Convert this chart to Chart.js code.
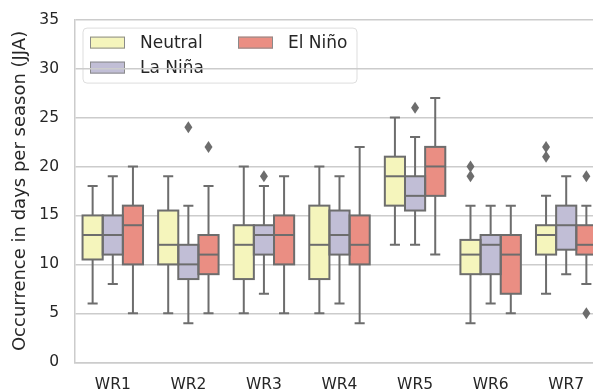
<!DOCTYPE html>
<html>
<head>
<meta charset="utf-8">
<script src="https://cdn.jsdelivr.net/npm/chart.js@4/dist/chart.umd.min.js"></script>
<style>
  html, body { margin: 0; padding: 0; background: #fff; overflow: hidden; width: 593px; height: 390px; }
  #wrap { position: absolute; left: 0; top: 0; width: 604px; height: 390px; }
</style>
</head>
<body>
<div id="wrap"><canvas id="c" width="604" height="390"></canvas></div>
<script>
// Weather regimes on the category axis
const categories = ['WR1', 'WR2', 'WR3', 'WR4', 'WR5', 'WR6', 'WR7'];
const seriesNames = ['Neutral', 'La Niña', 'El Niño'];
const yTickValues = [0, 5, 10, 15, 20, 25, 30, 35];

// Five-number summaries per regime: [lower whisker, Q1, median, Q3, upper whisker]
const neutral = [[6, 10.5, 13, 15, 18], [5, 10, 12, 15.5, 19], [5, 8.5, 12, 14, 20], [5, 8.5, 12, 16, 20], [12, 16, 19, 21, 25], [4, 9, 11, 12.5, 16], [7, 11, 13, 14, 17]];
const laNina = [[8, 11, 13, 15, 19], [4, 8.5, 10, 12, 16], [7, 11, 13, 14, 18], [6, 11, 13, 15.5, 19], [12, 15.5, 17, 19, 23], [6, 9, 12, 13, 16], [9, 11.5, 14, 16, 19]];
const elNino = [[5, 10, 14, 16, 20], [5, 9, 11, 13, 18], [5, 10, 13, 15, 19], [4, 10, 12, 15, 22], [11, 17, 20, 22, 27], [5, 7, 11, 13, 16], [8, 11, 12, 14, 16]];

// Points beyond the whiskers
const neutralOutliers = [[], [], [], [], [], [20, 19], [22, 21]];
const laNinaOutliers = [[], [24], [19], [], [26], [], []];
const elNinoOutliers = [[], [22], [], [], [], [], [19, 5]];

const fills = ['#f5f5bc', '#c1bed6', '#ea8e83'];
const lineGray = '#6d6d6d';
const textColor = '#262626';
const gridColor = '#cccccc';
const FONT = '"DejaVu Sans", sans-serif';

const stats = [neutral, laNina, elNino];
const outliers = [neutralOutliers, laNinaOutliers, elNinoOutliers];

const datasets = seriesNames.map((name, k) => ({
  label: name,
  data: stats[k].map(s => [s[1], s[3]]),
  backgroundColor: fills[k],
  borderWidth: 0,
  categoryPercentage: 0.8,
  barPercentage: 1.0
}));

// Whiskers, caps, box outlines, medians and outlier diamonds
const boxDetails = {
  id: 'boxDetails',
  afterDatasetsDraw(chart) {
    const ctx = chart.ctx;
    const y = chart.scales.y;
    ctx.save();
    ctx.strokeStyle = lineGray;
    ctx.fillStyle = lineGray;
    ctx.lineWidth = 2;
    ctx.lineCap = 'butt';
    stats.forEach((series, k) => {
      const meta = chart.getDatasetMeta(k);
      meta.data.forEach((bar, i) => {
        const [lo, q1, med, q3, hi] = series[i];
        const x = bar.x, w = bar.width;
        const left = x - w / 2, right = x + w / 2;
        const yLo = y.getPixelForValue(lo), yQ1 = y.getPixelForValue(q1);
        const yMed = y.getPixelForValue(med), yQ3 = y.getPixelForValue(q3);
        const yHi = y.getPixelForValue(hi);
        ctx.beginPath();
        ctx.moveTo(x, yQ3); ctx.lineTo(x, yHi);
        ctx.moveTo(x, yQ1); ctx.lineTo(x, yLo);
        ctx.moveTo(x - w / 4, yHi); ctx.lineTo(x + w / 4, yHi);
        ctx.moveTo(x - w / 4, yLo); ctx.lineTo(x + w / 4, yLo);
        ctx.stroke();
        ctx.strokeRect(left, yQ3, w, yQ1 - yQ3);
        ctx.beginPath();
        ctx.moveTo(left, yMed); ctx.lineTo(right, yMed);
        ctx.stroke();
        outliers[k][i].forEach(v => {
          const py = y.getPixelForValue(v);
          ctx.beginPath();
          ctx.moveTo(x, py - 6);
          ctx.lineTo(x + 4, py);
          ctx.lineTo(x, py + 6);
          ctx.lineTo(x - 4, py);
          ctx.closePath();
          ctx.fill();
        });
      });
    });
    ctx.restore();
  }
};

// Legend box in the upper left, laid under the grid lines
const legendBox = {
  id: 'legendBox',
  beforeDraw(chart) {
    const ctx = chart.ctx;
    const a = chart.chartArea;
    const bx = a.left + 8, by = a.top + 8.5, bw = 274, bh = 55;
    ctx.save();
    ctx.beginPath();
    ctx.roundRect(bx, by, bw, bh, 4);
    ctx.fillStyle = 'rgba(255,255,255,0.8)';
    ctx.fill();
    ctx.strokeStyle = '#dddddd';
    ctx.lineWidth = 1;
    ctx.stroke();
    const slots = [
      { px: bx + 7, py: by + 8.5 },
      { px: bx + 7, py: by + 33.5 },
      { px: bx + 155, py: by + 8.5 }
    ];
    ctx.font = '17px ' + FONT;
    ctx.textBaseline = 'middle';
    seriesNames.forEach((name, k) => {
      const s = slots[k];
      ctx.fillStyle = fills[k];
      ctx.fillRect(s.px, s.py, 35, 12);
      ctx.strokeStyle = '#8a8a8a';
      ctx.lineWidth = 1;
      ctx.strokeRect(s.px + 0.5, s.py + 0.5, 34, 11);
      ctx.fillStyle = textColor;
      ctx.fillText(name, s.px + 50, s.py + 6.5);
    });
    ctx.restore();
  }
};

new Chart(document.getElementById('c'), {
  type: 'bar',
  data: { labels: categories, datasets },
  options: {
    responsive: false,
    animation: false,
    devicePixelRatio: 1,
    layout: { padding: { top: 19.6, left: 0, right: 0, bottom: 0 } },
    plugins: { legend: { display: false }, tooltip: { enabled: false } },
    scales: {
      x: {
        grid: { display: false, drawTicks: false },
        border: { display: true, color: gridColor, width: 1.5 },
        ticks: { color: textColor, font: { family: FONT, size: 15.5 }, padding: 13 },
        afterFit(scale) { scale.height = 27.7; }
      },
      y: {
        min: 0, max: 35,
        afterBuildTicks(scale) { scale.ticks = yTickValues.map(v => ({ value: v })); },
        grid: { color: gridColor, lineWidth: 1.5, drawTicks: false },
        border: { display: true, color: gridColor, width: 1.5 },
        ticks: { color: textColor, font: { family: FONT, size: 15.5 }, padding: 16 },
        title: {
          display: true,
          text: 'Occurrence in days per season (JJA)',
          color: textColor,
          font: { family: FONT, size: 18 },
          padding: { top: 10, bottom: 0 }
        },
        afterFit(scale) {
          scale.width = 75;
          scale.paddingTop = 0;
          scale.paddingBottom = 0;
        }
      }
    }
  },
  plugins: [legendBox, boxDetails]
});
</script>
</body>
</html>
